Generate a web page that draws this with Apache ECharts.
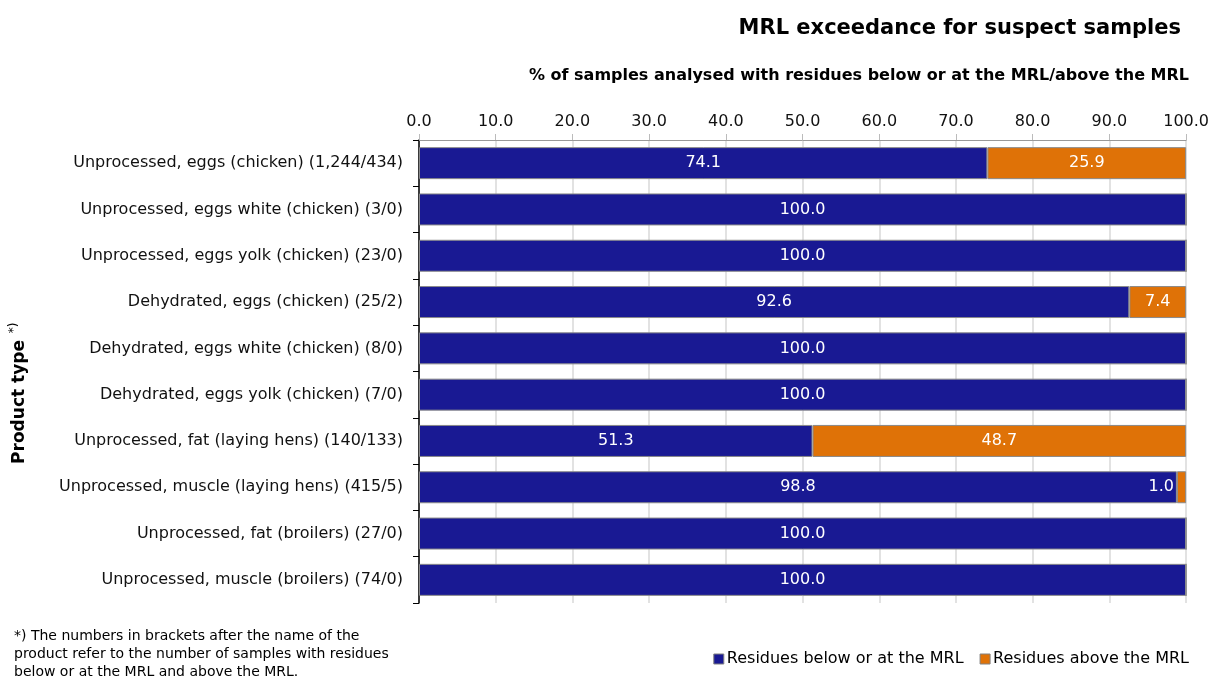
<!DOCTYPE html>
<html><head><meta charset="utf-8">
<script src="https://cdn.jsdelivr.net/npm/echarts@6/dist/echarts.min.js"></script>
<style>html,body{margin:0;padding:0;background:#fff}#c{width:1212px;height:677px}</style>
</head><body><div id="c"></div>
<script>
const categories = [
  'Unprocessed, eggs (chicken) (1,244/434)',
  'Unprocessed, eggs white (chicken) (3/0)',
  'Unprocessed, eggs yolk (chicken) (23/0)',
  'Dehydrated, eggs (chicken) (25/2)',
  'Dehydrated, eggs white (chicken) (8/0)',
  'Dehydrated, eggs yolk (chicken) (7/0)',
  'Unprocessed, fat (laying hens) (140/133)',
  'Unprocessed, muscle (laying hens) (415/5)',
  'Unprocessed, fat (broilers) (27/0)',
  'Unprocessed, muscle (broilers) (74/0)'
];
const belowMRL = [74.1, 100.0, 100.0, 92.6, 100.0, 100.0, 51.3, 98.8, 100.0, 100.0];
const aboveMRL = [25.9, 0, 0, 7.4, 0, 0, 48.7, 1.2, 0, 0];
const aboveLabels = ['25.9', '', '', '7.4', '', '', '48.7', '1.0', '', ''];
const xTicks = [0, 10, 20, 30, 40, 50, 60, 70, 80, 90, 100];

const FONT = 'DejaVu Sans';
const BLUE = '#191993';
const ORANGE = '#DF7207';

const chart = echarts.init(document.getElementById('c'), null, {renderer: 'canvas'});
chart.setOption({
  animation: false,
  textStyle: {fontFamily: FONT},
  title: [
    {text: 'MRL exceedance for suspect samples', right: 26, top: 13,
     textStyle: {fontFamily: FONT, fontSize: 21, fontWeight: 'bold', color: '#000'}},
    {text: '% of samples analysed with residues below or at the MRL/above the MRL', right: 18, top: 63,
     textStyle: {fontFamily: FONT, fontSize: 16, fontWeight: 'bold', color: '#000'}}
  ],
  grid: {left: 419, right: 20, top: 140, bottom: 74, containLabel: false},
  legend: {
    right: 18, bottom: 5, itemWidth: 10, itemHeight: 10, itemGap: 16,
    icon: 'rect',
    textStyle: {fontFamily: FONT, fontSize: 16, color: '#000', padding: [0, 0, 0, -2]},
    data: [
      {name: 'Residues below or at the MRL', itemStyle: {borderColor: '#808080', borderWidth: 1}},
      {name: 'Residues above the MRL', itemStyle: {borderColor: '#808080', borderWidth: 1}}
    ]
  },
  xAxis: {
    type: 'value', position: 'top', min: 0, max: 100, interval: 10,
    axisLine: {show: true, lineStyle: {color: '#999'}},
    axisTick: {show: true, length: 6, lineStyle: {color: '#bbb'}},
    axisLabel: {fontFamily: FONT, fontSize: 16, color: '#111', margin: 10,
      formatter: v => xTicks.indexOf(v) >= 0 ? v.toFixed(1) : ''},
    splitLine: {show: true, lineStyle: {color: '#d9d9d9', width: 1.5}}
  },
  yAxis: {
    type: 'category', inverse: true, data: categories,
    axisLine: {show: true, lineStyle: {color: '#000', width: 1.5}},
    axisTick: {show: true, length: 6, lineStyle: {color: '#000'}},
    axisLabel: {fontFamily: FONT, fontSize: 16, color: '#111', margin: 16}
  },
  series: [
    {name: 'Residues below or at the MRL', type: 'bar', stack: 'a', barWidth: 32,
     data: belowMRL,
     itemStyle: {color: BLUE, borderColor: '#8a8a8a', borderWidth: 1},
     label: {show: true, position: 'inside', color: '#fff', fontFamily: FONT, fontSize: 16,
       formatter: p => p.value.toFixed(1)}},
    {name: 'Residues above the MRL', type: 'bar', stack: 'a', barWidth: 32,
     data: aboveMRL.map((v, i) => ({
       value: v,
       label: v < 3 ? {position: 'left', distance: 3} : {}
     })),
     itemStyle: {color: ORANGE, borderColor: '#8a8a8a', borderWidth: 1},
     label: {show: true, position: 'inside', color: '#fff', fontFamily: FONT, fontSize: 16,
       formatter: p => aboveLabels[p.dataIndex]}}
  ],
  graphic: [
    {type: 'text', x: 20, y: 402, rotation: Math.PI / 2,
     style: {text: 'Product type', font: 'bold 17px "DejaVu Sans"', fill: '#000',
       textAlign: 'center', textVerticalAlign: 'middle'}},
    {type: 'text', x: 14, y: 328, rotation: Math.PI / 2,
     style: {text: '*)', font: '12px "DejaVu Sans"', fill: '#000',
       textAlign: 'center', textVerticalAlign: 'middle'}},
    {type: 'text', left: 14, top: 627,
     style: {text: '*) The numbers in brackets after the name of the\nproduct refer to the number of samples with residues\nbelow or at the MRL and above the MRL.',
       font: '14px "DejaVu Sans"', fill: '#000', lineHeight: 18}}
  ]
});
</script></body></html>
